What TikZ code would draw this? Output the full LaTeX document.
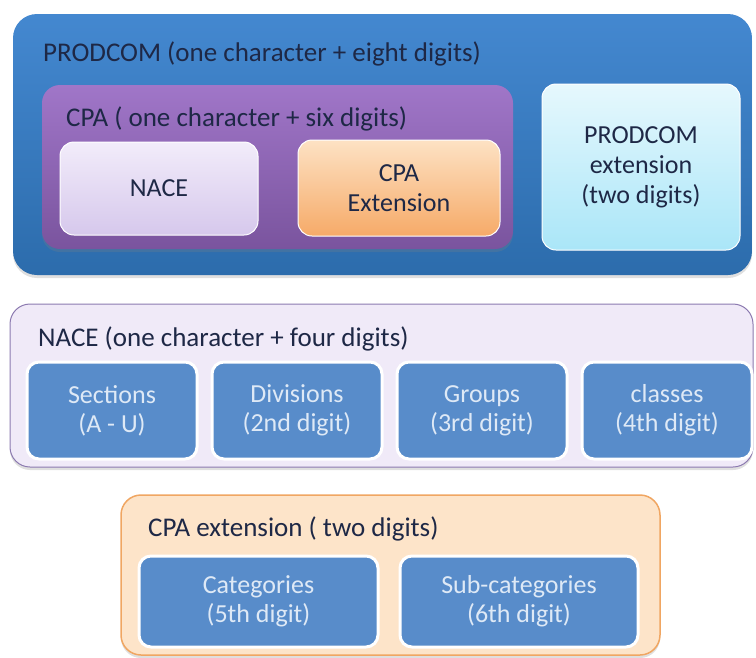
\documentclass[tikz,border=0pt]{standalone}
\usepackage{fontspec}
\setmainfont{Carlito}
\usetikzlibrary{positioning,shadows}

\definecolor{inktext}{RGB}{30,40,70}
\definecolor{tiletext}{RGB}{222,233,246}
\definecolor{tilefill}{RGB}{88,140,202}

\begin{document}
\begin{tikzpicture}[
  x=1pt, y=-1pt,
  node distance=15pt,
  panel/.style={rounded corners=24pt, outer sep=0pt, inner sep=0pt,
                drop shadow={opacity=0.25, shadow xshift=0pt, shadow yshift=-3pt}},
  box/.style={rounded corners=14pt, outer sep=0pt, align=center,
              font=\fontsize{26}{30}\selectfont, text=inktext,
              draw=white, line width=1pt},
  tile/.style={rounded corners=12pt, outer sep=0pt, align=center,
               fill=tilefill, draw=white, line width=3pt,
               minimum width=170pt, minimum height=97pt,
               font=\fontsize{26}{29}\selectfont, text=tiletext},
  title/.style={anchor=west, inner sep=0pt, text=inktext,
                font=\fontsize{27}{30}\selectfont}
]
  \useasboundingbox (0,0) rectangle (756,657);

  % PRODCOM block
  \node[panel, minimum width=739pt, minimum height=261pt,
        top color={rgb,255:red,68;green,136;blue,208},
        bottom color={rgb,255:red,44;green,108;blue,172}] (prodcom) at (382.5,144.5) {};
  \node[title] (prodtitle) at (43,54) {PRODCOM (one character + eight digits)};
  \node[panel, rounded corners=18pt, minimum width=471pt, minimum height=164pt,
        top color={rgb,255:red,160;green,118;blue,200},
        bottom color={rgb,255:red,122;green,84;blue,158}] (cpa) at (277.5,167) {};
  \node[title] (cpatitle) at (66,119) {CPA ( one character + six digits)};
  \node[box, minimum width=198pt, minimum height=93pt,
        top color={rgb,255:red,242;green,236;blue,250},
        bottom color={rgb,255:red,214;green,200;blue,236}] (naceinner) at (159,188.5) {NACE};
  \node[box, minimum width=202pt, minimum height=96pt,
        top color={rgb,255:red,253;green,226;blue,196},
        bottom color={rgb,255:red,246;green,170;blue,104}] (cpaextinner) at (399,188) {CPA\\Extension};
  \node[box, minimum width=198pt, minimum height=166pt,
        top color={rgb,255:red,230;green,248;blue,253},
        bottom color={rgb,255:red,170;green,230;blue,248}] (prodext) at (641,167)
        {PRODCOM\\extension\\(two digits)};

  % NACE block
  \node[panel, rounded corners=20pt, minimum width=743pt, minimum height=163pt,
        fill={rgb,255:red,240;green,234;blue,248},
        draw={rgb,255:red,140;green,122;blue,176}, line width=1pt] (nace) at (381.5,385.5) {};
  \node[title] (nacetitle) at (38,339) {NACE (one character + four digits)};
  \node[tile] (sections) at (112,410.5) {Sections\\(A - U)};
  \node[tile, right=of sections] (divisions) {Divisions\\(2nd digit)};
  \node[tile, right=of divisions] (groups) {Groups\\(3rd digit)};
  \node[tile, right=of groups] (classes) {classes\\(4th digit)};

  % CPA extension block
  \node[panel, rounded corners=20pt, minimum width=539pt, minimum height=160pt,
        fill={rgb,255:red,253;green,228;blue,201},
        draw={rgb,255:red,240;green,166;blue,98}, line width=1.5pt] (cpaext) at (390.5,575) {};
  \node[title] (cpaexttitle) at (148,529) {CPA extension ( two digits)};
  \node[tile, minimum width=239pt, minimum height=91pt] (categories) at (258.5,601.5)
        {Categories\\(5th digit)};
  \node[tile, minimum width=238pt, minimum height=91pt, right=22pt of categories] (subcategories)
        {Sub-categories\\(6th digit)};
\end{tikzpicture}
\end{document}
